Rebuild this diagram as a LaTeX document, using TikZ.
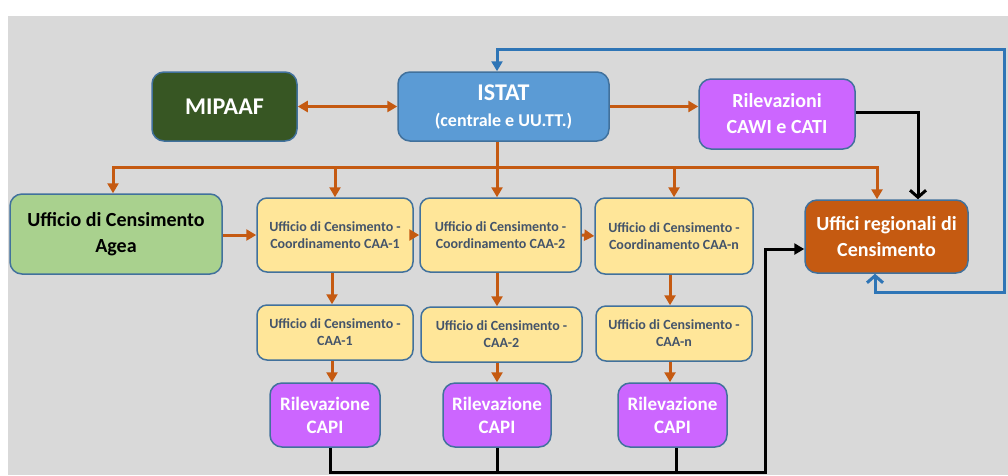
\documentclass[tikz,border=0pt]{standalone}
\usepackage{fontspec}
\setmainfont{Carlito}
\usepackage{xcolor}
\usetikzlibrary{calc, positioning, arrows.meta}

\definecolor{bordo}{HTML}{41719C}
\definecolor{arancio}{HTML}{C55A11}
\definecolor{celeste}{HTML}{5B9BD5}
\definecolor{bluscuro}{HTML}{2E75B6}
\definecolor{verdescuro}{HTML}{375623}
\definecolor{verde}{HTML}{A9D18E}
\definecolor{giallo}{HTML}{FFE699}
\definecolor{viola}{HTML}{CC66FF}
\definecolor{grigiotesto}{HTML}{44546A}
\definecolor{sfondo}{HTML}{D9D9D9}

\tikzset{
	box/.style={draw=bordo, line width=1.5pt, rounded corners=12pt, align=center, inner sep=2pt, font=\bfseries\fontsize{20}{26}\selectfont},
	ufficio/.style={box, fill=giallo, text=grigiotesto, rounded corners=10pt, font=\bfseries\fontsize{14}{17}\selectfont},
	rilev/.style={box, fill=viola, text=white},
	linea/.style={draw=arancio, line width=3pt},
	freccia/.style={linea, -{Triangle[length=10pt,width=11pt]}},
	doppia/.style={linea, {Triangle[length=10pt,width=11pt]}-{Triangle[length=10pt,width=11pt]}},
	nero/.style={draw=black, line width=3pt},
}

\begin{document}
\begin{tikzpicture}[x=1pt, y=-1pt]
	\useasboundingbox (0,0) rectangle (1008,475);
	\fill [sfondo] (8,16) rectangle (1008,475);

	\node [box, fill=verdescuro, text=white, font=\bfseries\fontsize{24}{28}\selectfont, minimum width=145pt, minimum height=69pt] (mipaaf) at (224.5,106.5) {MIPAAF};
	\node [box, fill=celeste, text=white, minimum width=211pt, minimum height=69pt] (istat) at (503.5,106.5) {\fontsize{24}{26}\selectfont ISTAT\\\fontsize{18}{27}\selectfont (centrale e UU.TT.)};
	\node [rilev, minimum width=156pt, minimum height=70pt] (cawi) at (777,114) {Rilevazioni\\CAWI e CATI};

	\node [box, fill=verde, text=black, minimum width=212pt, minimum height=80pt] (agea) at (116,234) {Ufficio di Censimento\\Agea};
	\node [box, fill=arancio, text=white, minimum width=163pt, minimum height=73pt] (reg) at (886.5,236.5) {Uffici regionali di\\Censimento};

	\node [ufficio, minimum width=156pt, minimum height=74pt] (coord1) at (335,235) {Ufficio di Censimento -\\Coordinamento CAA-1};
	\node [ufficio, minimum width=161pt, minimum height=74pt] (coord2) at (500.5,235) {Ufficio di Censimento -\\Coordinamento CAA-2};
	\node [ufficio, minimum width=158pt, minimum height=76pt] (coordn) at (674,236) {Ufficio di Censimento -\\Coordinamento CAA-n};

	\node [ufficio, minimum width=156pt, minimum height=55pt] (caa1) at (335,332.5) {Ufficio di Censimento -\\CAA-1};
	\node [ufficio, minimum width=161pt, minimum height=55pt] (caa2) at (501.5,334.5) {Ufficio di Censimento -\\CAA-2};
	\node [ufficio, minimum width=156pt, minimum height=55pt] (caan) at (674,333.5) {Ufficio di Censimento -\\CAA-n};

	\node [rilev, font=\bfseries\fontsize{19}{23}\selectfont, minimum width=110pt, minimum height=64pt] (capi1) at (325,415) {Rilevazione\\CAPI};
	\node [rilev, font=\bfseries\fontsize{19}{23}\selectfont, minimum width=108pt, minimum height=64pt] (capi2) at (497,415) {Rilevazione\\CAPI};
	\node [rilev, font=\bfseries\fontsize{19}{23}\selectfont, minimum width=109pt, minimum height=64pt] (capin) at (672.5,415) {Rilevazione\\CAPI};

	% ISTAT in alto
	\draw [doppia] (mipaaf.east) -- (istat.west);
	\draw [freccia] (istat.east) -- (istat.east -| cawi.west);

	% distribuzione verso il basso
	\coordinate (split) at (497,167);
	\draw [linea] (istat.south -| split) -- (split);
	\draw [freccia] (split) -| ([xshift=-3pt]agea.north);
	\draw [freccia] (split) -| (coord1.north);
	\draw [freccia] (split) -- (split |- coord2.north);
	\draw [freccia] (split) -| (coordn.north);
	\draw [freccia] (split) -| ([xshift=-9.5pt]reg.north);

	\draw [freccia] (coord1.west -| agea.east) -- (coord1.west);
	\draw [freccia] (coord1.east) -- (coord2.west);
	\draw [freccia] (coord2.east) -- (coordn.west);

	\draw [freccia] ([xshift=-3pt]coord1.south) -- ([xshift=-3pt]coord1.south |- caa1.north);
	\draw [freccia] (coord2.south -| split) -- (caa2.north -| split);
	\draw [freccia] ([xshift=-4pt]coordn.south) -- ([xshift=-4pt]coordn.south |- caan.north);

	\draw [freccia] ([xshift=-3pt]caa1.south) -- ([xshift=-3pt]caa1.south |- capi1.north);
	\draw [freccia] (caa2.south -| split) -- (capi2.north -| split);
	\draw [freccia] ([xshift=-4pt]caan.south) -- ([xshift=-4pt]caan.south |- capin.north);

	% ritorno dati agli uffici regionali
	\coordinate (giu) at (765,472);
	\draw [nero, -{Triangle[length=10pt,width=11pt]}] ([xshift=5pt]capi1.south) |- (giu) |- ([yshift=-12.5pt]reg.west);
	\draw [nero] (capi2.south) -- (capi2.south |- giu);
	\draw [nero] ([xshift=3.5pt]capin.south) -- ([xshift=3.5pt]capin.south |- giu);
	\draw [nero, -{Straight Barb[length=7pt,width=16pt]}] ([yshift=2pt]cawi.east) -| ([xshift=31.5pt]reg.north);

	% anello blu
	\coordinate (bne) at (1004,49);
	\coordinate (bse) at (1004,292);
	\draw [draw=bluscuro, line width=3pt, {Straight Barb[length=7pt,width=16pt]}-{Triangle[length=10pt,width=11pt]}] ([xshift=-11.5pt]reg.south) |- (bse) -- (bne) -| ([xshift=-6.5pt]istat.north);

\end{tikzpicture}
\end{document}
